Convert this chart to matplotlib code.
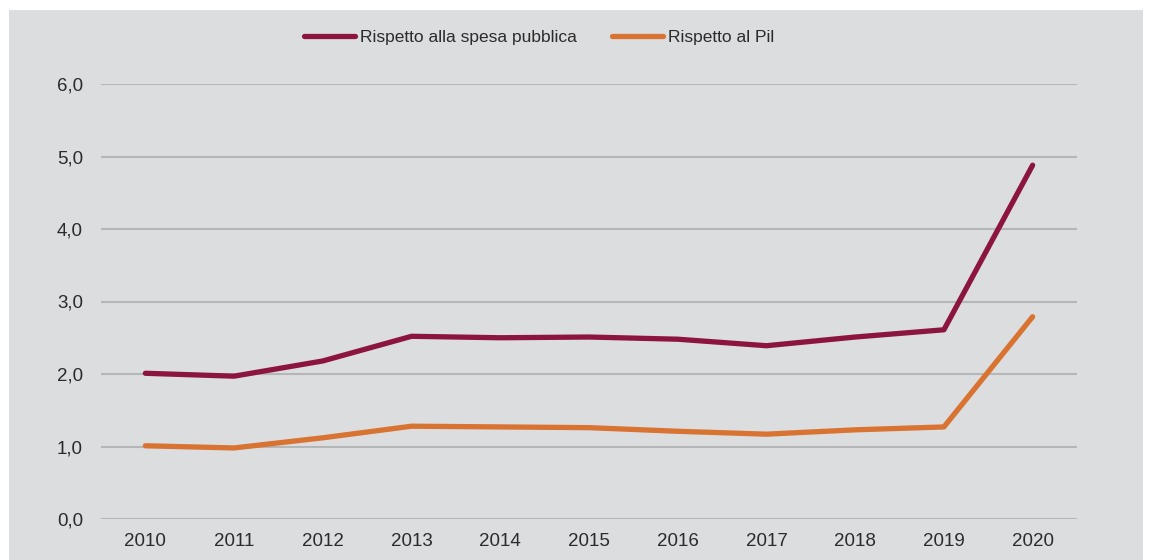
import matplotlib.pyplot as plt
from matplotlib.patches import Rectangle
from matplotlib.ticker import FuncFormatter

plt.rcParams['font.family'] = ['Liberation Sans', 'DejaVu Sans']

# data
anni = ['2010', '2011', '2012', '2013', '2014', '2015', '2016', '2017', '2018', '2019', '2020']
spesa_pubblica = [2.01, 1.97, 2.18, 2.52, 2.50, 2.51, 2.48, 2.39, 2.51, 2.61, 4.88]
pil = [1.01, 0.98, 1.12, 1.28, 1.27, 1.26, 1.21, 1.17, 1.23, 1.27, 2.79]
serie_nomi = ['Rispetto alla spesa pubblica', 'Rispetto al Pil']

bg = '#dcdddf'
col_spesa = '#8c1540'
col_pil = '#d87332'
testo = '#2b2b2b'

W, H = 1149, 560
fig = plt.figure(figsize=(W / 100, H / 100), dpi=100)
fig.patch.set_facecolor('white')
# gray panel behind the chart
fig.patches.append(Rectangle((9 / W, 0), (1143 - 9) / W, 1 - 10 / H,
                             transform=fig.transFigure, facecolor=bg,
                             edgecolor='none', zorder=-10))

ax = fig.add_axes([101 / W, 1 - 519 / H, (1077 - 101) / W, (519 - 84) / H])
ax.set_facecolor(bg)
ax.patch.set_alpha(0)

x = list(range(len(anni)))
ax.plot(x, spesa_pubblica, color=col_spesa, lw=3.8, solid_capstyle='round',
        solid_joinstyle='round', label=serie_nomi[0], clip_on=False, zorder=3)
ax.plot(x, pil, color=col_pil, lw=3.8, solid_capstyle='round',
        solid_joinstyle='round', label=serie_nomi[1], clip_on=False, zorder=3)

ax.set_xlim(-0.5, len(anni) - 0.5)
ax.set_ylim(0, 6)
ax.set_yticks([0, 1, 2, 3, 4, 5, 6])
ax.yaxis.set_major_formatter(FuncFormatter(lambda v, p: f"{v:.1f}".replace('.', ',')))
ax.set_xticks(x)
ax.set_xticklabels(anni)

ax.grid(axis='y', color='#b5b6b8', lw=1.5)
ax.set_axisbelow(True)
for s in ax.spines.values():
    s.set_visible(False)
ax.tick_params(axis='both', length=0, labelsize=13.5, colors=testo)
ax.tick_params(axis='x', pad=10)
ax.tick_params(axis='y', pad=13)

fig.legend(loc='center', bbox_to_anchor=(539 / W, 1 - 37 / H), ncol=2,
           frameon=False, fontsize=12.5, handlelength=2.95, handletextpad=0.28,
           columnspacing=2.0, labelcolor=testo)

fig.savefig('out.png', dpi=100, facecolor=fig.get_facecolor())
